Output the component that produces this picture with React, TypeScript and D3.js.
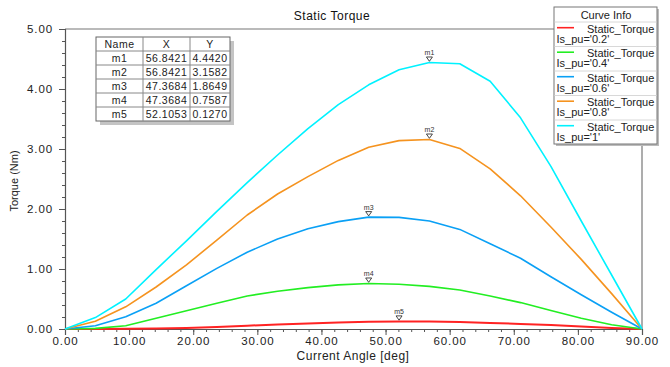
import React, { useEffect, useRef } from 'react'
import * as d3 from 'd3'

// current angle samples (deg), 20 steps of 90/19
const angles = [0, 4.7368, 9.4737, 14.2105, 18.9474, 23.6842, 28.4211, 33.1579, 37.8947, 42.6316,
    47.3684, 52.1053, 56.8421, 61.5789, 66.3158, 71.0526, 75.7895, 80.5263, 85.2632, 90]

const torque02 = [0, 0, 0.003, 0.008, 0.018, 0.035, 0.055, 0.075, 0.092, 0.107,
    0.119, 0.127, 0.126, 0.115, 0.1, 0.085, 0.065, 0.04, 0.018, 0]
const torque04 = [0, 0.01, 0.055, 0.18, 0.305, 0.43, 0.55, 0.63, 0.69, 0.735,
    0.7587, 0.745, 0.71, 0.65, 0.55, 0.44, 0.31, 0.18, 0.07, 0]
const torque06 = [0, 0.055, 0.205, 0.43, 0.72, 1.01, 1.28, 1.5, 1.67, 1.79,
    1.8649, 1.86, 1.8, 1.66, 1.42, 1.18, 0.87, 0.57, 0.28, 0]
const torque08 = [0, 0.13, 0.37, 0.7, 1.07, 1.48, 1.9, 2.25, 2.54, 2.81,
    3.03, 3.14, 3.1582, 3.01, 2.67, 2.22, 1.7, 1.16, 0.59, 0]
const torque10 = [0, 0.19, 0.5, 0.99, 1.47, 1.96, 2.44, 2.9, 3.34, 3.74,
    4.07, 4.32, 4.442, 4.42, 4.13, 3.52, 2.71, 1.8, 0.9, 0]

const seriesLabels = ["Is_pu='0.2'", "Is_pu='0.4'", "Is_pu='0.6'", "Is_pu='0.8'", "Is_pu='1'"]
const seriesValues = [torque02, torque04, torque06, torque08, torque10]
const seriesColors = ['#ff2222', '#22ee22', '#0aa0f5', '#f5931f', '#00f2ff']

const markerNames = ['m1', 'm2', 'm3', 'm4', 'm5']
const markerX = [56.8421, 56.8421, 47.3684, 47.3684, 52.1053]
const markerY = [4.4420, 3.1582, 1.8649, 0.7587, 0.1270]

const xTicks = [0, 10, 20, 30, 40, 50, 60, 70, 80, 90]
const yTicks = [0, 1, 2, 3, 4, 5]

const FONT = 'Liberation Sans, Arial, sans-serif'

export default function App() {
    const svgRef = useRef<SVGSVGElement>(null)
    const width = 670
    const height = 367

    useEffect(() => {
        if (!svgRef.current) return
        const svg = d3.select(svgRef.current)
        svg.selectAll('*').remove()

        const x = d3.scaleLinear().domain([0, 90]).range([65, 642])
        const y = d3.scaleLinear().domain([0, 5]).range([329, 29])
        const fmt = d3.format('.2f')

        svg.append('rect').attr('width', width).attr('height', height).attr('fill', '#fff')

        // frame (top and right)
        svg.append('path')
            .attr('d', `M${x(0)},${y(5)}H${x(90)}V${y(0)}`)
            .attr('fill', 'none').attr('stroke', '#777').attr('stroke-width', 1.2)

        // minor ticks
        const minorY = svg.append('g').attr('transform', `translate(${x(0)},0)`)
            .call(d3.axisLeft(y).tickValues(d3.range(0, 5.001, 0.2)).tickSize(3).tickFormat(() => ''))
        minorY.select('.domain').remove()
        minorY.selectAll('line').attr('stroke', '#555')
        const minorX = svg.append('g').attr('transform', `translate(0,${y(0)})`)
            .call(d3.axisBottom(x).tickValues(d3.range(0, 90.001, 2)).tickSize(3).tickFormat(() => ''))
        minorX.select('.domain').remove()
        minorX.selectAll('line').attr('stroke', '#555')

        // major axes
        const yAxis = svg.append('g').attr('transform', `translate(${x(0)},0)`)
            .call(d3.axisLeft(y).tickValues(yTicks).tickFormat(d => fmt(d as number)).tickSize(6).tickPadding(6))
        const xAxis = svg.append('g').attr('transform', `translate(0,${y(0)})`)
            .call(d3.axisBottom(x).tickValues(xTicks).tickFormat(d => fmt(d as number)).tickSize(6).tickPadding(2))
        for (const a of [yAxis, xAxis]) {
            a.select('.domain').attr('stroke', '#555').attr('stroke-width', 1.2)
            a.selectAll('line').attr('stroke', '#555')
            a.selectAll('text').attr('fill', '#222').attr('font-family', FONT)
                .attr('font-size', 11.5).attr('letter-spacing', '0.9px')
        }

        // curves
        const line = d3.line<number>().x((_, i) => x(angles[i])).y(d => y(d))
        seriesValues.forEach((vals, k) => {
            svg.append('path').datum(vals).attr('d', line)
                .attr('fill', 'none').attr('stroke', seriesColors[k])
                .attr('stroke-width', k === 0 ? 2 : 1.6).attr('stroke-linejoin', 'round')
        })

        // markers
        markerNames.forEach((name, i) => {
            const mx = x(markerX[i])
            const my = y(markerY[i])
            svg.append('path')
                .attr('d', `M${mx - 3},${my - 5.5}L${mx + 3},${my - 5.5}L${mx},${my - 1.2}Z`)
                .attr('fill', '#fff').attr('stroke', '#333').attr('stroke-width', 0.9)
            svg.append('text').attr('x', mx).attr('y', my - 7.5)
                .attr('text-anchor', 'middle').attr('font-family', FONT).attr('font-size', 7)
                .attr('fill', '#333').text(name)
        })

        // titles
        svg.append('text').attr('x', 332).attr('y', 20).attr('text-anchor', 'middle')
            .attr('font-family', FONT).attr('font-size', 12).attr('letter-spacing', '0.5px')
            .attr('fill', '#111').text('Static Torque')
        svg.append('text').attr('x', 353).attr('y', 360).attr('text-anchor', 'middle')
            .attr('font-family', FONT).attr('font-size', 12).attr('letter-spacing', '0.5px')
            .attr('fill', '#222').text('Current Angle [deg]')
        svg.append('text').attr('transform', 'translate(18,181) rotate(-90)').attr('text-anchor', 'middle')
            .attr('font-family', FONT).attr('font-size', 11)
            .attr('fill', '#222').text('Torque (Nm)')

        // marker table
        const cols = [96, 143, 190, 230]
        const rowTop = 37
        const rowH = 14
        const nRows = markerNames.length + 1
        const tbl = svg.append('g')
        tbl.append('rect').attr('x', cols[0] + 4).attr('y', rowTop + 4)
            .attr('width', cols[3] - cols[0]).attr('height', rowH * nRows).attr('fill', '#c4c4c4')
        tbl.append('rect').attr('x', cols[0]).attr('y', rowTop)
            .attr('width', cols[3] - cols[0]).attr('height', rowH * nRows)
            .attr('fill', '#fff').attr('stroke', '#666')
        for (let r = 1; r < nRows; r++) {
            tbl.append('line').attr('x1', cols[0]).attr('x2', cols[3])
                .attr('y1', rowTop + r * rowH).attr('y2', rowTop + r * rowH).attr('stroke', '#888')
        }
        for (let c = 1; c < 3; c++) {
            tbl.append('line').attr('x1', cols[c]).attr('x2', cols[c])
                .attr('y1', rowTop).attr('y2', rowTop + rowH * nRows).attr('stroke', '#888')
        }
        const rows = [['Name', 'X', 'Y'], ...markerNames.map((n, i) =>
            [n, d3.format('.4f')(markerX[i]), d3.format('.4f')(markerY[i])])]
        rows.forEach((row, r) => {
            row.forEach((cell, c) => {
                tbl.append('text').attr('x', (cols[c] + cols[c + 1]) / 2).attr('y', rowTop + r * rowH + 11)
                    .attr('text-anchor', 'middle').attr('font-family', FONT).attr('font-size', 10.5)
                    .attr('letter-spacing', '0.5px').attr('fill', '#222').text(cell)
            })
        })

        // legend
        const lg = svg.append('g')
        lg.append('rect').attr('x', 556).attr('y', 9).attr('width', 103).attr('height', 137).attr('fill', '#bbb')
        lg.append('rect').attr('x', 554).attr('y', 7).attr('width', 103).attr('height', 137)
            .attr('fill', '#fff').attr('stroke', '#777')
        lg.append('text').attr('x', 606).attr('y', 18.5).attr('text-anchor', 'middle')
            .attr('font-family', FONT).attr('font-size', 11).attr('fill', '#222').text('Curve Info')
        seriesLabels.forEach((lab, i) => {
            const y0 = 22 + i * 24.5
            lg.append('line').attr('x1', 554.5).attr('x2', 656.5).attr('y1', y0).attr('y2', y0)
                .attr('stroke', '#d8d8d8')
            lg.append('line').attr('x1', 557).attr('x2', 574).attr('y1', y0 + 5.7).attr('y2', y0 + 5.7)
                .attr('stroke', seriesColors[i]).attr('stroke-width', 1.6)
            lg.append('text').attr('x', 587).attr('y', y0 + 10.5)
                .attr('font-family', FONT).attr('font-size', 11).attr('fill', '#222').text('Static_Torque')
            lg.append('text').attr('x', 556.5).attr('y', y0 + 20.5)
                .attr('font-family', FONT).attr('font-size', 11).attr('fill', '#222').text(lab)
        })
    }, [])

    return (
        <svg ref={svgRef} width={width} height={height} viewBox={`0 0 ${width} ${height}`}
            style={{ position: 'absolute', left: 0, top: 0 }} />
    )
}
